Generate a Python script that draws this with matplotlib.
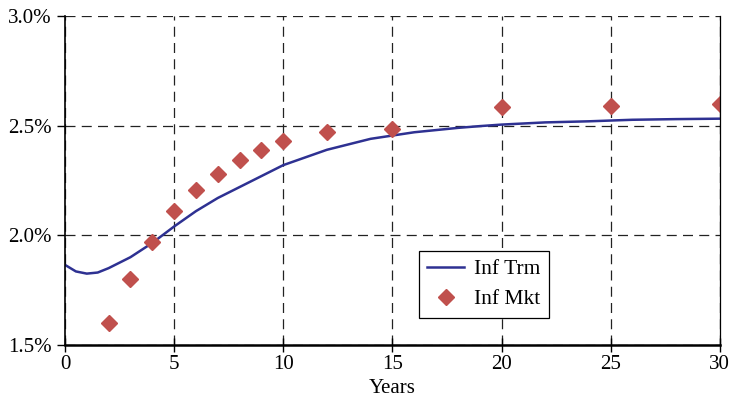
import numpy as np
import matplotlib.pyplot as plt
from matplotlib.ticker import FuncFormatter

# term structure curve (years, % )
trm_years = [0, 0.5, 1, 1.5, 2, 3, 4, 5, 6, 7, 8, 9, 10, 11, 12, 13, 14, 15, 16, 17, 18, 19, 20, 22, 24, 26, 28, 30]
trm_vals = [1.865, 1.835, 1.825, 1.83, 1.85, 1.90, 1.965, 2.04, 2.11, 2.17, 2.22, 2.27, 2.32, 2.355, 2.39, 2.415, 2.44, 2.455, 2.47, 2.48, 2.49, 2.498, 2.505, 2.515, 2.52, 2.527, 2.53, 2.532]

# market points
mkt_years = [2, 3, 4, 5, 6, 7, 8, 9, 10, 12, 15, 20, 25, 30]
mkt_vals = [1.60, 1.80, 1.97, 2.11, 2.205, 2.28, 2.345, 2.39, 2.43, 2.47, 2.485, 2.585, 2.59, 2.60]

plt.rcParams['font.family'] = ['Liberation Serif', 'DejaVu Serif']

fig = plt.figure(figsize=(7.3, 4.13), dpi=100)
ax = fig.add_axes([0.089, 0.165, 0.897, 0.796])

ax.plot(trm_years, trm_vals, color='#2e3192', lw=1.8, label='Inf Trm')
ax.plot(mkt_years, mkt_vals, 'D', color='#c0504d', ms=8, ls='none', label='Inf Mkt')

ax.set_xlim(0, 30)
ax.set_ylim(1.5, 3.0)
ax.set_xticks([0, 5, 10, 15, 20, 25, 30])
ax.set_yticks([1.5, 2.0, 2.5, 3.0])
ax.yaxis.set_major_formatter(FuncFormatter(lambda v, p: '%.1f%%' % v))
ax.grid(True, color='#222222', ls=(0, (8, 5)), lw=0.9)
ax.spines['top'].set_visible(False)
ax.spines['right'].set_linewidth(0.9)
ax.spines['left'].set_linewidth(1.2)
ax.spines['bottom'].set_linewidth(1.8)
ax.tick_params(axis='x', direction='inout', length=10, width=1, labelsize=15, pad=2)
ax.tick_params(axis='y', direction='out', length=6, width=1, labelsize=15)
ax.set_xlabel('Years', fontsize=15, labelpad=4)

leg = ax.legend(loc='upper left', bbox_to_anchor=(0.524, 0.319), fontsize=15.5,
                frameon=True, fancybox=False, edgecolor='black', framealpha=1,
                handlelength=1.7, borderpad=0.4, labelspacing=0.45, handletextpad=0.45)
leg.get_frame().set_linewidth(0.9)

fig.savefig('out.png', dpi=100)
